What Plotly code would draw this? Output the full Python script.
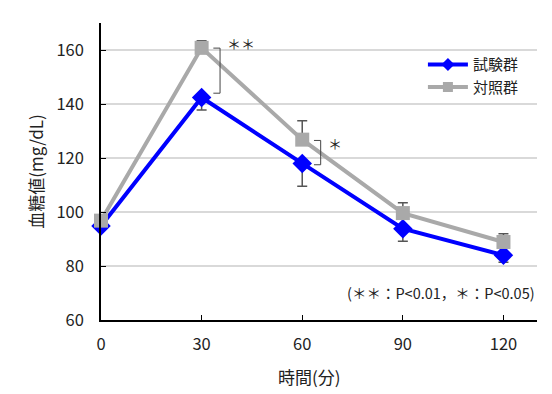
import plotly.graph_objects as go

times = [0, 30, 60, 90, 120]
test_vals = [94.8, 142.4, 118.0, 93.8, 84.0]
test_err = [0, 4.6, 8.5, 4.6, 2.6]
ctrl_vals = [96.8, 160.8, 126.8, 99.6, 88.9]
ctrl_err = [0, 2.6, 7.0, 3.8, 3.0]
y_ticks = [60, 80, 100, 120, 140, 160]
x_ticks = [0, 30, 60, 90, 120]

FONT = "Noto Sans CJK JP"
BLUE = "#0000ff"
GRAY = "#a9a9a9"
fig = go.Figure()

fig.add_trace(go.Scatter(
    x=times, y=test_vals, name="試験群", mode="lines+markers", showlegend=False,
    line=dict(color=BLUE, width=4),
    marker=dict(symbol="diamond", size=15, color=BLUE),
    error_y=dict(type="data", symmetric=False, array=[0]*5,
                 arrayminus=test_err, color="#555555", thickness=1.5, width=5),
    cliponaxis=False,
))
fig.add_trace(go.Scatter(
    x=times, y=ctrl_vals, name="対照群", mode="lines+markers", showlegend=False,
    line=dict(color=GRAY, width=4),
    marker=dict(symbol="square", size=14, color=GRAY),
    error_y=dict(type="data", symmetric=False, array=ctrl_err,
                 arrayminus=[0]*5, color="#555555", thickness=1.5, width=5),
    cliponaxis=False,
))
# legend entries (smaller markers, as in the original legend)
fig.add_trace(go.Scatter(x=[None], y=[None], name="試験群", mode="lines+markers",
                         line=dict(color=BLUE, width=4),
                         marker=dict(symbol="diamond", size=10, color=BLUE)))
fig.add_trace(go.Scatter(x=[None], y=[None], name="対照群", mode="lines+markers",
                         line=dict(color=GRAY, width=4),
                         marker=dict(symbol="square", size=10, color=GRAY)))

# significance brackets
brackets = [(160.7, 144.0, 35.5, "＊＊", 162.5),
            (126.5, 117.5, 65.5, "＊", 125.5)]
for ytop, ybot, xb, label, ylab in brackets:
    fig.add_shape(type="path", xref="x", yref="y",
                  path=f"M {xb-2},{ytop} L {xb},{ytop} L {xb},{ybot} L {xb-2},{ybot}",
                  line=dict(color="#444444", width=1))
    fig.add_annotation(x=xb + 1.5, y=ylab, xref="x", yref="y", text=label,
                       showarrow=False, xanchor="left",
                       font=dict(family=FONT, size=14, color="#222"))

fig.add_annotation(x=1.0, y=0.091, xref="paper", yref="paper",
                   text="(＊＊：P<0.01，＊：P<0.05)", showarrow=False,
                   xanchor="right", yanchor="middle",
                   font=dict(family=FONT, size=14.5, color="#222"))

# x-axis title
fig.add_annotation(x=0.479, y=0, xref="paper", yref="paper",
                   text="時間(分)", showarrow=False,
                   xanchor="center", yanchor="middle", yshift=-56,
                   font=dict(family=FONT, size=17, color="#222"))

fig.update_layout(
    width=552, height=394,
    margin=dict(l=93, r=23, t=15, b=82, autoexpand=False),
    paper_bgcolor="white", plot_bgcolor="white",
    font=dict(family=FONT, size=16.5, color="#222"),
    showlegend=True,
    legend=dict(x=0.97, y=0.915, xanchor="right", yanchor="top",
                bgcolor="rgba(0,0,0,0)",
                font=dict(size=15), itemwidth=40, tracegroupgap=0),
    xaxis=dict(range=[0, 130], tickvals=x_ticks, showgrid=False,
               showline=True, linecolor="black", linewidth=1.5,
               ticks="inside", ticklen=5, tickcolor="black", zeroline=False,
               automargin=False, ticklabelstandoff=8),
    yaxis=dict(range=[60, 170], tickvals=y_ticks, showgrid=True,
               gridcolor="#d9d9d9", gridwidth=2,
               showline=True, linecolor="black", linewidth=1.5,
               ticks="inside", ticklen=5, tickcolor="black", zeroline=False,
               ticklabelstandoff=12, automargin=False,
               title=dict(text="血糖値(mg/dL)", font=dict(size=17), standoff=9)),
)

fig.write_html("out.html")
